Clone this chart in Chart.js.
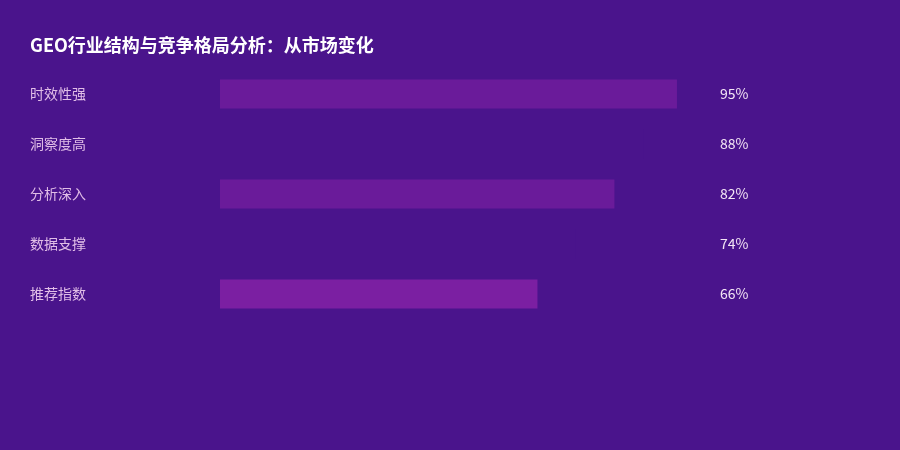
<!DOCTYPE html>
<html>
<head>
<meta charset="utf-8">
<script src="https://cdn.jsdelivr.net/npm/chart.js@4/dist/chart.umd.min.js"></script>
<style>
html,body{margin:0;padding:0;background:#4a148c;}
#wrap{width:900px;height:450px;}
</style>
</head>
<body>
<div id="wrap"><canvas id="c" width="900" height="450"></canvas></div>
<script>
const titleText = 'GEO行业结构与竞争格局分析：从市场变化';
const categories = ['时效性强', '洞察度高', '分析深入', '数据支撑', '推荐指数'];
const values = [95, 88, 82, 74, 66];
const barColors = ['#6a1b9a', '#4a148c', '#6a1b9a', '#4a148c', '#7b1fa2'];
const FONT = '"Noto Sans CJK SC", "Noto Sans", sans-serif';

const bgPlugin = {
  id: 'bg',
  beforeDraw(chart) {
    const ctx = chart.ctx;
    ctx.save();
    ctx.fillStyle = '#4a148c';
    ctx.fillRect(0, 0, chart.width, chart.height);
    ctx.restore();
  }
};

const valueLabels = {
  id: 'valueLabels',
  afterDatasetsDraw(chart) {
    const ctx = chart.ctx;
    const meta = chart.getDatasetMeta(0);
    ctx.save();
    ctx.font = '14px ' + FONT;
    ctx.fillStyle = '#f3e5f5';
    ctx.textAlign = 'left';
    ctx.textBaseline = 'middle';
    meta.data.forEach((bar, i) => {
      ctx.fillText(values[i] + '%', chart.chartArea.right + 19, bar.y);
    });
    ctx.restore();
  }
};

new Chart(document.getElementById('c'), {
  type: 'bar',
  data: {
    labels: categories,
    datasets: [{
      data: values,
      backgroundColor: barColors,
      borderWidth: 0,
      barPercentage: 0.58,
      categoryPercentage: 1.0
    }]
  },
  options: {
    indexAxis: 'y',
    responsive: false,
    animation: false,
    devicePixelRatio: 1,
    layout: { padding: { left: 30, right: 199, top: 0, bottom: 131 } },
    plugins: {
      legend: { display: false },
      tooltip: { enabled: false },
      title: {
        display: true,
        text: titleText,
        align: 'start',
        color: '#ffffff',
        font: { family: FONT, size: 18, weight: 'bold' },
        padding: { top: 34, bottom: 13.4 }
      }
    },
    scales: {
      x: { display: false, min: 0, max: 100 },
      y: {
        afterFit(scale) { scale.width = 190; },
        grid: { display: false },
        border: { display: false },
        ticks: {
          crossAlign: 'far',
          padding: 0,
          color: '#e1bee7',
          font: { family: FONT, size: 14 }
        }
      }
    }
  },
  plugins: [bgPlugin, valueLabels]
});
</script>
</body>
</html>
